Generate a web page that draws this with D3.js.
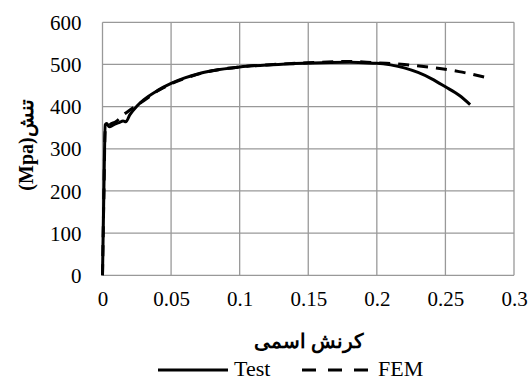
<!DOCTYPE html>
<html lang="en">
<head>
  <meta charset="UTF-8">
  <style>
    html, body { margin: 0; background: #fff; }
    .serif { font-family: "Liberation Serif", "Times New Roman", serif !important; }
  </style>
</head>
<body>
  <svg width="528" height="380"></svg>
</body>
<script src="https://d3js.org/d3.v7.min.js"></script>
<script type="text/javascript">
  // strain (x) / stress in MPa (y)
  const testStrain = [0, 0.001, 0.002, 0.003, 0.005, 0.008, 0.012, 0.015, 0.017, 0.02, 0.025, 0.03, 0.04, 0.05, 0.06, 0.07, 0.08, 0.1, 0.12, 0.14, 0.16, 0.18, 0.19, 0.2, 0.21, 0.22, 0.23, 0.24, 0.25, 0.26, 0.268]
  const testStress = [0, 200, 357, 360, 352, 357, 362, 366, 364, 381, 401, 416, 438, 455, 468, 478, 485, 494, 499, 502, 504, 505, 504, 503, 499, 492, 481, 466, 447, 427, 405]

  const femStrain = [0, 0.001, 0.002, 0.005, 0.01, 0.015, 0.02, 0.03, 0.04, 0.05, 0.06, 0.08, 0.1, 0.12, 0.15, 0.18, 0.19, 0.2, 0.22, 0.24, 0.26, 0.28]
  const femStress = [0, 190, 345, 356, 365, 380, 392, 414, 437, 454, 467, 485, 494, 499, 504, 507, 506, 504, 500, 493, 483, 469]

  const xTicks = [0, 0.05, 0.1, 0.15, 0.2, 0.25, 0.3]
  const yTicks = [0, 100, 200, 300, 400, 500, 600]

  const seriesNames = ['Test', 'FEM']
  const xTitle = 'کرنش اسمی'
  const yTitle = '(Mpa)تنش'

  const svg = d3.select('svg')
  const plot = {left: 102.5, right: 514, top: 22.3, bottom: 275.3}

  const x = d3.scaleLinear().domain([0, 0.3]).range([plot.left, plot.right])
  const y = d3.scaleLinear().domain([0, 600]).range([plot.bottom, plot.top])

  // grid
  const grid = svg.append('g')
  grid.selectAll('line.v')
    .data(xTicks)
    .enter()
    .append('line')
    .attr('class', 'v')
    .attr('x1', d => x(d))
    .attr('x2', d => x(d))
    .attr('y1', plot.top)
    .attr('y2', plot.bottom)
    .attr('stroke', '#999')
    .attr('stroke-width', 1.3)
  grid.selectAll('line.h')
    .data(yTicks)
    .enter()
    .append('line')
    .attr('class', 'h')
    .attr('x1', plot.left)
    .attr('x2', plot.right)
    .attr('y1', d => y(d))
    .attr('y2', d => y(d))
    .attr('stroke', '#999')
    .attr('stroke-width', 1.3)

  // axes (labels only, lines come from grid)
  const xAxis = svg.append('g')
    .attr('transform', 'translate(0,' + plot.bottom + ')')
    .call(d3.axisBottom(x).tickValues(xTicks).tickSize(0).tickPadding(16).tickFormat(d => String(d)))
  const yAxis = svg.append('g')
    .attr('transform', 'translate(' + plot.left + ',0)')
    .call(d3.axisLeft(y).tickValues(yTicks).tickSize(0).tickPadding(21).tickFormat(d3.format('d')))
  ;[xAxis, yAxis].forEach(a => {
    a.attr('font-family', null).attr('font-size', null)
    a.select('.domain').remove()
    a.selectAll('text')
      .attr('class', 'serif')
      .style('font-size', '21px')
      .attr('fill', '#000')
  })
  yAxis.selectAll('text').attr('dy', '0.34em')

  const line = d3.line()
    .x(d => x(d[0]))
    .y(d => y(d[1]))
    .curve(d3.curveMonotoneX)

  const femData = femStrain.map((s, i) => [s, femStress[i]])
  const testData = testStrain.map((s, i) => [s, testStress[i]])

  svg.append('path')
    .attr('d', line(femData))
    .attr('fill', 'none')
    .attr('stroke', '#000')
    .attr('stroke-width', 3)
    .attr('stroke-dasharray', '11,8')

  svg.append('path')
    .attr('d', line(testData))
    .attr('fill', 'none')
    .attr('stroke', '#000')
    .attr('stroke-width', 3)

  // titles
  svg.append('text')
    .attr('class', 'serif')
    .attr('x', 309)
    .attr('y', 348)
    .attr('text-anchor', 'middle')
    .style('font-size', '20px')
    .style('font-weight', 'bold')
    .text(xTitle)

  svg.append('text')
    .attr('class', 'serif')
    .attr('transform', 'translate(33,145) rotate(-90)')
    .attr('text-anchor', 'middle')
    .style('font-size', '20px')
    .style('font-weight', 'bold')
    .text(yTitle)

  // legend
  const legend = svg.append('g')
  const items = [
    {name: seriesNames[0], x: 158, dash: null},
    {name: seriesNames[1], x: 302, dash: '14,12'}
  ]
  items.forEach(it => {
    legend.append('line')
      .attr('x1', it.x)
      .attr('x2', it.x + 70)
      .attr('y1', 370)
      .attr('y2', 370)
      .attr('stroke', '#000')
      .attr('stroke-width', 3)
      .attr('stroke-dasharray', it.dash)
    legend.append('text')
      .attr('class', 'serif')
      .attr('x', it.x + 76)
      .attr('y', 376)
      .style('font-size', '22px')
      .text(it.name)
  })
</script>
</html>
